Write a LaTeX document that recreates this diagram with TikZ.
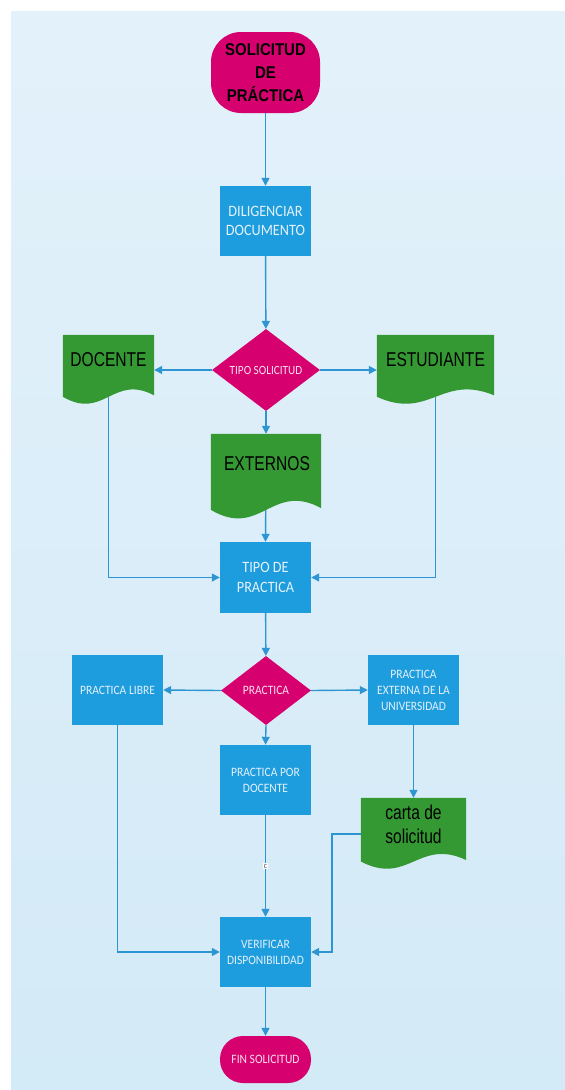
\documentclass[tikz,border=0pt]{standalone}
\usepackage{fontspec}
\setmainfont{Carlito}[FakeStretch=0.9]
\newfontfamily\docfont[FakeStretch=0.78]{Liberation Sans}
\newfontfamily\termfont[FakeStretch=0.88]{Liberation Sans}
\usetikzlibrary{shapes.geometric,arrows.meta,calc}
\pgfdeclarelayer{bgl}\pgfdeclarelayer{edgel}\pgfdeclarelayer{docl}
\pgfsetlayers{bgl,edgel,docl,main}
\definecolor{bgtop}{RGB}{227,241,250}
\definecolor{bgbot}{RGB}{211,234,247}
\definecolor{magen}{RGB}{214,0,111}
\definecolor{boxblue}{RGB}{29,157,222}
\definecolor{boxtext}{RGB}{228,241,252}
\definecolor{pinktext}{RGB}{252,225,238}
\definecolor{docgreen}{RGB}{52,153,51}
\definecolor{linecol}{RGB}{45,150,210}
\tikzset{
  procbox/.style={rectangle, fill=boxblue, text=boxtext, minimum width=91pt, minimum height=70pt, inner sep=2pt, align=center, font=\fontsize{12.8}{16}\selectfont},
  bigproc/.style={procbox, font=\fontsize{15.8}{19.5}\selectfont},
  decbox/.style={diamond, fill=magen, text=pinktext, inner sep=0pt, align=center, font=\fontsize{12.5}{14}\selectfont},
  termbox/.style={rectangle, fill=magen, align=center, inner sep=0pt},
  docframe/.style={rectangle, inner sep=0pt},
  doctext/.style={font=\docfont\fontsize{20}{24}\selectfont, text=black, align=center, inner sep=0pt},
  conn/.style={draw=linecol, line width=1.4pt},
  arr/.style={conn, -{Triangle[length=8pt,width=8pt]}},
  lbl/.style={fill=white, text=black!70, inner sep=1pt, font=\fontsize{8.5}{9}\selectfont}
}
\newcommand\docshape[1]{%
  \begin{pgfonlayer}{docl}
  \fill[docgreen] let \p1=(#1.north west), \p2=(#1.south east) in
    (\p1) -- (\x2,\y1) -- (\x2,{\y1+0.86*(\y2-\y1)})
    .. controls ({\x1+0.55*(\x2-\x1)},{\y1+0.55*(\y2-\y1)}) and ({\x1+0.45*(\x2-\x1)},{\y1+1.22*(\y2-\y1)}) ..
    (\x1,{\y1+0.88*(\y2-\y1)}) -- cycle;
  \end{pgfonlayer}}
\begin{document}
\begin{tikzpicture}[x=1pt,y=-1pt]
\useasboundingbox (0,0) rectangle (565,1090);
\begin{pgfonlayer}{bgl}
  \shade[top color=bgtop, bottom color=bgbot] (11,11) rectangle (565,1090);
\end{pgfonlayer}

% nodes
\node[termbox, rounded corners=30pt, minimum width=109pt, minimum height=81pt,
      font=\termfont\bfseries\fontsize{17}{23}\selectfont, text=black] (start) at (265.5,72.5) {SOLICITUD\\DE\\PRÁCTICA};
\node[bigproc] (dilig) at (265.5,221) {DILIGENCIAR\\DOCUMENTO};
\node[decbox, minimum width=108pt, minimum height=82pt] (tipos) at (266,370) {TIPO SOLICITUD};

\node[docframe, minimum width=91pt, minimum height=70pt] (docente) at (108.5,370) {};
\node[docframe, minimum width=117pt, minimum height=70pt] (estudiante) at (435.5,370) {};
\node[docframe, minimum width=110pt, minimum height=86pt] (externos) at (266,477) {};
\docshape{docente}\docshape{estudiante}\docshape{externos}
\node[doctext] (docente-t) at (108.5,360) {DOCENTE};
\node[doctext] (estudiante-t) at (435.5,360) {ESTUDIANTE};
\node[doctext] (externos-t) at (267,464) {EXTERNOS};

\node[bigproc, minimum height=71pt] (tipoprac) at (265.5,577.5) {TIPO DE\\PRACTICA};
\node[decbox, minimum width=90pt, minimum height=69pt, font=\fontsize{12.8}{14}\selectfont] (prac) at (266,690.5) {PRACTICA};
\node[procbox] (libre) at (117.5,690) {PRACTICA LIBRE};
\node[procbox] (externa) at (413.5,690) {PRACTICA\\EXTERNA DE LA\\UNIVERSIDAD};
\node[procbox] (pordoc) at (265.5,780) {PRACTICA POR\\DOCENTE};

\node[docframe, minimum width=105pt, minimum height=72pt] (carta) at (413.5,834) {};
\docshape{carta}
\node[doctext] (carta-t) at (413.5,824) {carta de\\solicitud};

\node[procbox] (verif) at (265.5,952) {VERIFICAR\\DISPONIBILIDAD};
\node[termbox, rounded corners=23pt, minimum width=91pt, minimum height=47pt, text=pinktext,
      font=\fontsize{12.8}{14}\selectfont] (fin) at (265.5,1059.5) {FIN SOLICITUD};

\coordinate (cbend) at (332,952);

% connectors
\begin{pgfonlayer}{edgel}
\draw[arr] (start) -- (dilig);
\draw[arr] (dilig) -- (tipos);
\draw[arr] (tipos.west) -- (docente.east);
\draw[arr] (tipos.east) -- (estudiante.west);
\draw[arr] (tipos.south) -- (externos.north);
\draw[arr] (externos.center) -- (tipoprac.north);
\draw[arr] (docente.center) |- (tipoprac.west);
\draw[arr] (estudiante.center) |- (tipoprac.east);
\draw[arr] (tipoprac) -- (prac);
\draw[arr] (prac.west) -- (libre.east);
\draw[arr] (prac.east) -- (externa.west);
\draw[arr] (prac.south) -- (pordoc.north);
\draw[arr] (externa) -- (carta.north);
\draw[arr] (carta.west) -| (cbend) -- (verif.east);
\draw[arr] (libre.south) |- (verif.west);
\draw[arr] (pordoc) -- node[lbl, name=clabel] {c} (verif);
\draw[arr] (verif) -- (fin);
\end{pgfonlayer}
\end{tikzpicture}
\end{document}
